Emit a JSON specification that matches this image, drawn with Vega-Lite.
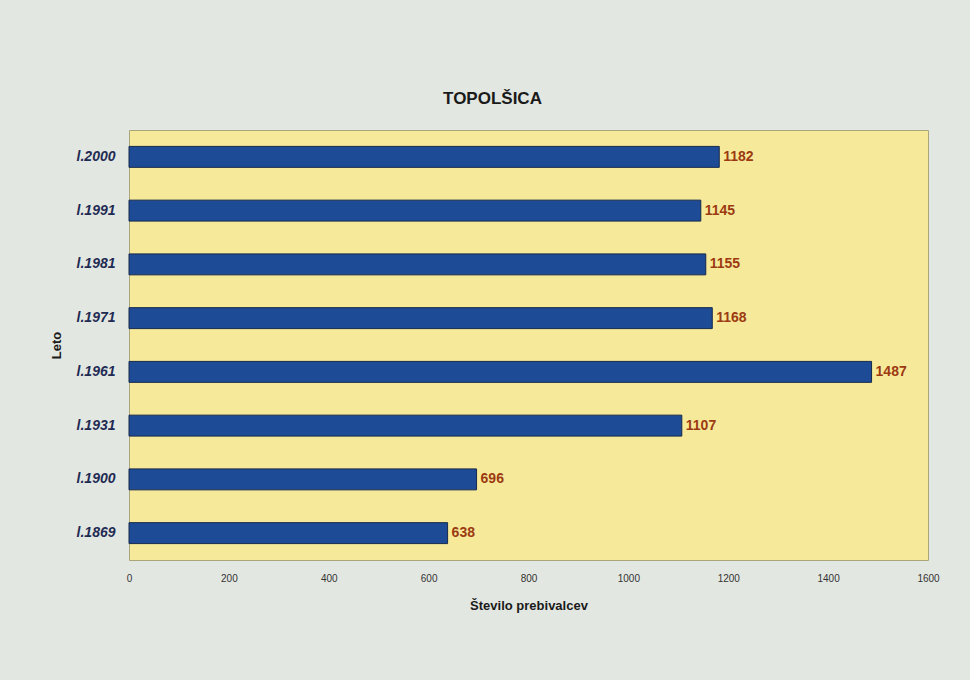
{
  "$schema": "https://vega.github.io/schema/vega-lite/v6.json",
  "width": 799,
  "height": 430,
  "autosize": {"type": "none"},
  "padding": {"left": 129, "top": 130, "right": 42, "bottom": 120},
  "background": "#e3e7e2",
  "title": {
    "text": "TOPOLŠICA",
    "font": "Liberation Sans",
    "fontSize": 17,
    "fontWeight": "bold",
    "color": "#1a1a1a",
    "anchor": "middle",
    "dx": -36,
    "offset": 22
  },
  "config": {
    "view": {"fill": "#f6ea9a", "stroke": "#aaa57a", "strokeWidth": 1},
    "font": "Liberation Sans"
  },
  "data": {
    "values": [
      {"leto": "l.2000", "prebivalci": 1182},
      {"leto": "l.1991", "prebivalci": 1145},
      {"leto": "l.1981", "prebivalci": 1155},
      {"leto": "l.1971", "prebivalci": 1168},
      {"leto": "l.1961", "prebivalci": 1487},
      {"leto": "l.1931", "prebivalci": 1107},
      {"leto": "l.1900", "prebivalci": 696},
      {"leto": "l.1869", "prebivalci": 638}
    ]
  },
  "encoding": {
    "y": {
      "field": "leto",
      "type": "nominal",
      "sort": null,
      "scale": {"paddingInner": 0.61, "paddingOuter": 0.305},
      "axis": {
        "title": "Leto",
        "titleFont": "Liberation Sans",
        "titleFontSize": 13,
        "titleFontWeight": "bold",
        "titleColor": "#1a1a1a",
        "titlePadding": 13,
        "labelFont": "Liberation Sans",
        "labelFontSize": 14,
        "labelFontWeight": "bold",
        "labelFontStyle": "italic",
        "labelColor": "#1f2b52",
        "labelPadding": 14,
        "ticks": false,
        "domain": false
      }
    },
    "x": {
      "field": "prebivalci",
      "type": "quantitative",
      "scale": {"domain": [0, 1600], "nice": false},
      "axis": {
        "title": "Število prebivalcev",
        "titleFont": "Liberation Sans",
        "titleFontSize": 13,
        "titleFontWeight": "bold",
        "titleColor": "#1a1a1a",
        "titlePadding": 16,
        "values": [0, 200, 400, 600, 800, 1000, 1200, 1400, 1600],
        "format": "d",
        "labelFlush": false,
        "labelFont": "Liberation Sans",
        "labelFontSize": 10,
        "labelColor": "#333333",
        "labelPadding": 13,
        "ticks": false,
        "domain": false,
        "grid": false
      }
    }
  },
  "layer": [
    {
      "mark": {"type": "bar", "color": "#1d4b95", "stroke": "#17294d", "strokeWidth": 1}
    },
    {
      "mark": {"type": "text", "align": "left", "baseline": "middle", "dx": 4, "font": "Liberation Sans", "fontSize": 14, "fontWeight": "bold", "color": "#9c3a12"},
      "encoding": {"text": {"field": "prebivalci", "type": "quantitative"}}
    }
  ]
}
